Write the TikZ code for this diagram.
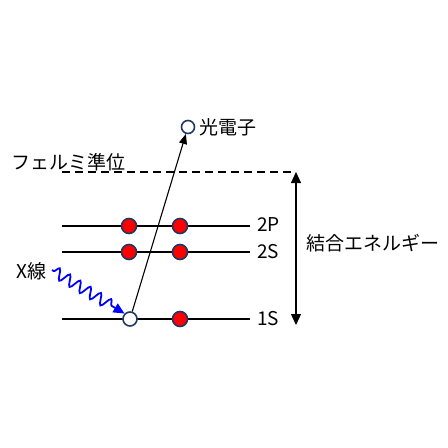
\documentclass[tikz,border=0pt]{standalone}
\usepackage{fontspec}
\setmainfont{Noto Sans CJK JP}
\usetikzlibrary{arrows.meta,decorations.pathmorphing}
\definecolor{navy}{RGB}{31,56,100}
\definecolor{xblue}{RGB}{0,0,255}
\begin{document}
\begin{tikzpicture}[x=1pt,y=-1pt,
  levelline/.style={line width=2.4pt},
  electron/.style={circle, fill=red, draw=navy, line width=1.6pt, minimum size=15pt, inner sep=0pt},
  hole/.style={circle, fill=white, draw=navy, line width=1.6pt, minimum size=14pt, inner sep=0pt},
  lbl/.style={font=\fontsize{19}{21}\selectfont, anchor=west, inner sep=0pt}]
\useasboundingbox (0,0) rectangle (448,448);
% Fermi level
\coordinate (f1) at (62,172);
\coordinate (f2) at (292,172);
\draw[line width=1.8pt, dash pattern=on 8pt off 5pt] (f1) -- (f2);
\node[lbl] (fermi) at (11,162) {フェルミ準位};
% levels
\coordinate (a1) at (62,226); \coordinate (a2) at (250,226);
\coordinate (b1) at (62,252); \coordinate (b2) at (250,252);
\coordinate (c1) at (62,319); \coordinate (c2) at (250,319);
\draw[levelline] (a1) -- (a2);
\draw[levelline] (b1) -- (b2);
\draw[levelline] (c1) -- (c2);
\node[lbl] (l2p) at (257,225) {2P};
\node[lbl] (l2s) at (257,252) {2S};
\node[lbl] (l1s) at (257,319) {1S};
% electrons
\node[electron] (e1) at (129,226) {};
\node[electron] (e2) at (180,226) {};
\node[electron] (e3) at (129,252) {};
\node[electron] (e4) at (180,252) {};
\node[electron] (e5) at (180,319) {};
\node[hole] (h) at (130,319) {};
% photoelectron
\node[hole, minimum size=13pt] (pe) at (188,127) {};
\node[lbl] (pelbl) at (199,127) {光電子};
\draw[line width=1.1pt, -{Triangle[length=10pt,width=8pt]}] (h) -- (pe);
% binding energy arrow
\coordinate (bt) at (296,172);
\coordinate (bb) at (296,325);
\draw[line width=1.2pt, {Triangle[length=11pt,width=10pt]}-{Triangle[length=11pt,width=10pt]}] (bt) -- (bb);
\node[lbl] (be) at (306,243) {結合エネルギー};
% X-ray
\node[lbl] (xl) at (16,271) {X線};
\coordinate (xs) at (52,270);
\draw[xblue, line width=1.8pt, decorate, decoration={snake, amplitude=5.5pt, segment length=12pt, post length=12pt, pre length=2pt}, -{Triangle[length=11pt,width=10pt]}] (xs) -- (h.north west);
\end{tikzpicture}
\end{document}
